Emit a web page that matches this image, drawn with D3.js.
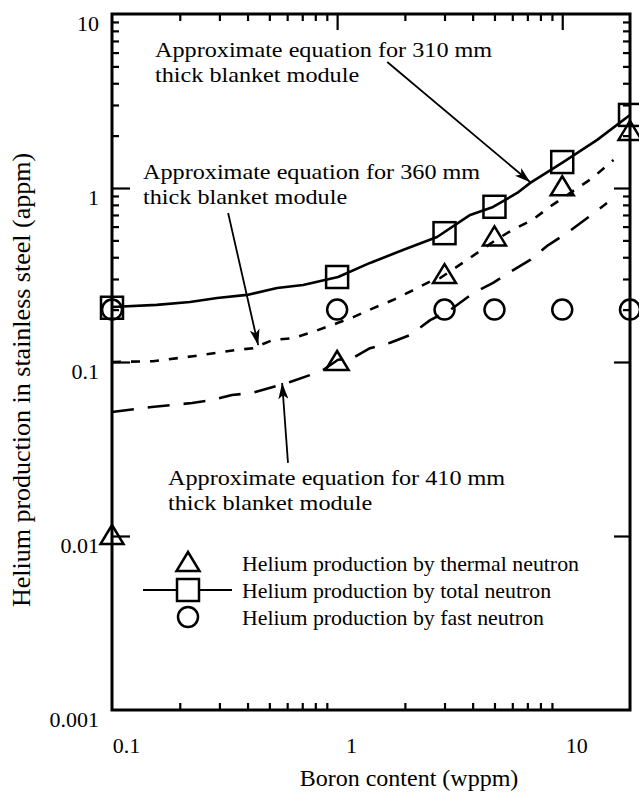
<!DOCTYPE html>
<html><head><meta charset="utf-8">
<script src="https://cdn.jsdelivr.net/npm/d3@7"></script>
<style>
body{margin:0;background:#fff;}
svg text{font-family:"Liberation Serif","Times New Roman",serif;fill:#000;}
</style></head>
<body><svg id="c" width="639" height="798"></svg>
<script>
// ---- data ----
const boron = [0.1, 1, 3, 5, 10, 20];
const heThermal = [0.01, 0.1, 0.316, 0.52, 1.01, 2.1];
const heTotal = [0.205, 0.308, 0.55, 0.78, 1.41, 2.63];
const heFast = [0.2, 0.2, 0.2, 0.2, 0.2, 0.2];

const eq310X = [0.1, 0.158, 0.222, 0.293, 0.398, 0.541, 0.706, 1.01, 1.40, 1.96, 2.78, 3.90, 4.93, 6.31, 7.21, 10.1, 14.3, 20];
const eq310Y = [0.207, 0.213, 0.221, 0.233, 0.243, 0.266, 0.277, 0.308, 0.371, 0.44, 0.523, 0.70, 0.778, 0.936, 1.07, 1.41, 1.89, 2.63];

const eq360X = [0.1, 0.152, 0.229, 0.293, 0.352, 0.423, 0.519, 0.637, 0.782, 1.01, 1.18, 1.45, 1.77, 2.18, 2.67, 2.87, 3.78, 5.04, 6.0, 7.36, 9.03, 13.6, 16.9];
const eq360Y = [0.1, 0.101, 0.108, 0.113, 0.117, 0.12, 0.134, 0.137, 0.149, 0.168, 0.181, 0.204, 0.227, 0.259, 0.296, 0.304, 0.386, 0.50, 0.574, 0.655, 0.798, 1.14, 1.45];

const eq410X = [0.1, 0.15, 0.185, 0.227, 0.278, 0.341, 0.419, 0.618, 0.759, 0.866, 1.01, 1.17, 1.40, 1.72, 2.11, 2.59, 3.18, 4.02, 4.93, 5.87, 7.21, 8.67, 10.5, 13.1, 15.8];
const eq410Y = [0.0516, 0.0551, 0.0566, 0.0581, 0.0605, 0.0646, 0.0664, 0.0767, 0.0842, 0.09, 0.103, 0.105, 0.12, 0.129, 0.143, 0.174, 0.199, 0.249, 0.285, 0.329, 0.386, 0.47, 0.551, 0.681, 0.82];

const xTickLabels = [0.1, 1, 10];
const yTickLabels = [0.001, 0.01, 0.1, 1, 10];
const annotations = [
  ["Approximate equation for 310 mm", "thick blanket module"],
  ["Approximate equation for 360 mm", "thick blanket module"],
  ["Approximate equation for 410 mm", "thick blanket module"]
];
// arrows: [fromX, fromY, toX, toY] in data units
const arrows = [
  [1.67, 5.3, 7.21, 1.08],
  [0.328, 0.718, 0.446, 0.125],
  [0.605, 0.0263, 0.57, 0.0757]
];
const legendLabels = ["Helium production by thermal neutron", "Helium production by total neutron", "Helium production by fast neutron"];
const xTitle = "Boron content (wppm)";
const yTitle = "Helium production in stainless steel (appm)";

// ---- layout ----
const L = 112, R = 630, T = 14, B = 710;
const svg = d3.select("#c");
const x = d3.scaleLog().domain([0.1, 20]).range([L, R]);
const y = d3.scaleLog().domain([0.001, 10]).range([B, T]);

svg.append("defs").append("marker").attr("id","ah").attr("viewBox","0 0 16 10")
  .attr("refX",16).attr("refY",5).attr("markerWidth",16).attr("markerHeight",10)
  .attr("markerUnits","userSpaceOnUse").attr("orient","auto")
  .append("path").attr("d","M0,0 L16,5 L0,10 L4,5 Z").attr("fill","#000");

// minor tick values
function minors(lo, hi){const out=[];for(let d=lo;d<hi;d*=10){for(let m=2;m<=9;m++){const v=m*d;if(v>0.1-1e-9&&v<=hi*1.0001)out.push(v);}}return out;}
const xMinor = minors(0.1, 20).filter(v=>v<20);
const yMinor = minors(0.001, 10).filter(v=>v<10);

function axisG(axis){
  const g = svg.append("g").call(axis);
  g.select(".domain").remove();
  g.selectAll("line").attr("stroke","#000").attr("stroke-width",2.2);
  return g;
}
axisG(d3.axisBottom(x).tickValues(xMinor).tickSize(-7).tickFormat("")).attr("transform",`translate(0,${B})`);
axisG(d3.axisTop(x).tickValues(xMinor).tickSize(-7).tickFormat("")).attr("transform",`translate(0,${T})`);
axisG(d3.axisTop(x).tickValues([1,10]).tickSize(-16).tickFormat("")).attr("transform",`translate(0,${T})`);
axisG(d3.axisLeft(y).tickValues(yMinor).tickSize(-7).tickFormat("")).attr("transform",`translate(${L},0)`);
axisG(d3.axisLeft(y).tickValues([0.01,0.1,1]).tickSize(-18).tickFormat("")).attr("transform",`translate(${L},0)`);
axisG(d3.axisRight(y).tickValues(yMinor).tickSize(-7).tickFormat("")).attr("transform",`translate(${R},0)`);
axisG(d3.axisRight(y).tickValues([0.01,0.1,1]).tickSize(-16).tickFormat("")).attr("transform",`translate(${R},0)`);

// tick labels
const xl = axisG(d3.axisBottom(x).tickValues(xTickLabels).tickSize(0).tickPadding(27).tickFormat(d=>String(d)))
  .attr("transform",`translate(0,${B})`);
xl.selectAll("text").attr("font-size",22).attr("dx",14).attr("font-family","Liberation Serif");
const yl = axisG(d3.axisLeft(y).tickValues(yTickLabels).tickSize(0).tickPadding(13).tickFormat(d=>String(d)))
  .attr("transform",`translate(${L},0)`);
yl.selectAll("text").attr("font-size",22).attr("dy","0.75em").attr("font-family","Liberation Serif");

// frame
svg.append("rect").attr("x",L).attr("y",T).attr("width",R-L).attr("height",B-T)
  .attr("fill","none").attr("stroke","#000").attr("stroke-width",3);

// curves
const line = d3.line().x(d=>x(d[0])).y(d=>y(d[1]));
function curve(xs, ys, dash){
  svg.append("path").datum(xs.map((v,i)=>[v,ys[i]])).attr("d",line)
    .attr("fill","none").attr("stroke","#000").attr("stroke-width",2.6)
    .attr("stroke-dasharray",dash).attr("stroke-linejoin","round");
}
curve(eq310X, eq310Y, null);
curve(eq360X, eq360Y, "9,10");
curve(eq410X, eq410Y, "22,14");

// markers
const triPath = "M0,-11 L11.5,8 L-11.5,8 Z";
const g = svg.append("g").attr("fill","none").attr("stroke","#000").attr("stroke-width",2.5);
g.selectAll(".tri").data(boron.map((b,i)=>[b,heThermal[i]])).join("path")
  .attr("d",triPath).attr("transform",d=>`translate(${x(d[0])},${y(d[1])})`).attr("fill","#fff").attr("fill-opacity",0);
g.selectAll(".sq").data(boron.map((b,i)=>[b,heTotal[i]])).join("rect")
  .attr("x",d=>x(d[0])-11).attr("y",d=>y(d[1])-11).attr("width",22).attr("height",22);
g.selectAll(".ci").data(boron.map((b,i)=>[b,heFast[i]])).join("circle")
  .attr("cx",d=>x(d[0])).attr("cy",d=>y(d[1])).attr("r",10);

// arrows
svg.selectAll(".arr").data(arrows).join("line")
  .attr("x1",d=>x(d[0])).attr("y1",d=>y(d[1])).attr("x2",d=>x(d[2])).attr("y2",d=>y(d[3]))
  .attr("stroke","#000").attr("stroke-width",1.8).attr("marker-end","url(#ah)");

// annotation text
const annPos = [[155,57],[143,179],[168,485]];
annotations.forEach((lines,i)=>{
  lines.forEach((t,j)=>{
    svg.append("text").attr("transform",`translate(${annPos[i][0]},${annPos[i][1]+j*25}) scale(1.1,1)`)
      .attr("font-size",22).text(t);
  });
});

// legend
const lg = svg.append("g").attr("transform","translate(188,563)");
lg.append("path").attr("d",triPath).attr("fill","none").attr("stroke","#000").attr("stroke-width",2.5);
lg.append("line").attr("x1",-45).attr("x2",44).attr("y1",27).attr("y2",27).attr("stroke","#000").attr("stroke-width",2);
lg.append("rect").attr("x",-11).attr("y",16).attr("width",22).attr("height",22).attr("fill","#fff").attr("stroke","#000").attr("stroke-width",2.5);
lg.append("circle").attr("cx",0).attr("cy",54).attr("r",10).attr("fill","none").attr("stroke","#000").attr("stroke-width",2.5);
legendLabels.forEach((t,i)=>{
  lg.append("text").attr("transform",`translate(54,${8+i*27}) scale(1.04,1)`).attr("font-size",21).text(t);
});

// axis titles
svg.append("text").attr("x",(L+R)/2+38).attr("y",786).attr("text-anchor","middle").attr("font-size",24).text(xTitle);
svg.append("text").attr("transform",`translate(30,380) rotate(-90)`).attr("text-anchor","middle").attr("font-size",26).text(yTitle);
</script></body></html>
